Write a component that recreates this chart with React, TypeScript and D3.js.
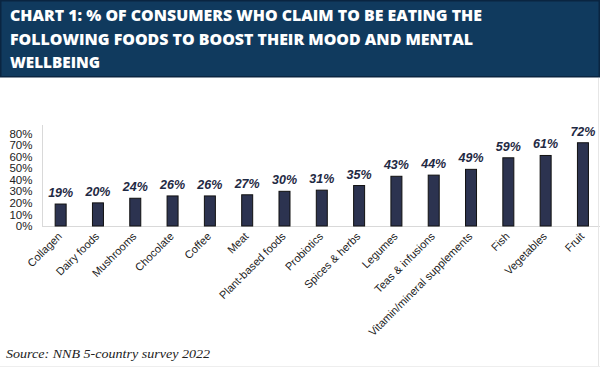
import React from "react";
import * as d3 from "d3";

const categories = [
  "Collagen", "Dairy foods", "Mushrooms", "Chocolate", "Coffee", "Meat",
  "Plant-based foods", "Probiotics", "Spices & herbs", "Legumes",
  "Teas & infusions", "Vitamin/mineral supplements", "Fish", "Vegetables", "Fruit",
];
const values = [19, 20, 24, 26, 26, 27, 30, 31, 35, 43, 44, 49, 59, 61, 72];
const yTicks = [0, 10, 20, 30, 40, 50, 60, 70, 80];
const titleLines = [
  "CHART 1: % OF CONSUMERS WHO CLAIM TO BE EATING THE",
  "FOLLOWING FOODS TO BOOST THEIR MOOD AND MENTAL",
  "WELLBEING",
];
const source = "Source: NNB 5-country survey 2022";

export default function App() {
  const W = 600, H = 368;
  const x = d3.scaleBand<string>().domain(categories).range([42, 601.6]).paddingInner(0.7).paddingOuter(0.35);
  const y = d3.scaleLinear().domain([0, 80]).range([226, 133.5]);
  const bw = 11;
  const titleWidths = [472, 463, 90];
  const titleBase = [20.7, 44.7, 68.3];

  return (
    <svg width={W} height={H} style={{ position: "absolute", left: 0, top: 0 }}
      fontFamily="'Liberation Sans', Arial, sans-serif">
      <rect x={0} y={0} width={W} height={H} fill="#fff" />
      <rect x={0.75} y={0.75} width={W - 1.5} height={76} fill="#103a5e" stroke="#0a2541" strokeWidth={1.5} />
      {titleLines.map((t, i) => (
        <text key={i} x={10} y={titleBase[i]} fill="#fff" fontFamily="'Open Sans', sans-serif"
          fontWeight={800} fontSize={16} textLength={titleWidths[i]} lengthAdjust="spacingAndGlyphs">{t}</text>
      ))}
      {/* axes */}
      <line x1={42.5} x2={42.5} y1={125} y2={226.5} stroke="#d9d9d9" strokeWidth={1} />
      <line x1={42} x2={600} y1={226.5} y2={226.5} stroke="#d9d9d9" strokeWidth={1} />
      {yTicks.map((t) => (
        <text key={t} x={32.5} y={y(t)} dy="0.36em" textAnchor="end" fontSize={11.5} fill="#222">{t}%</text>
      ))}
      {categories.map((c, i) => {
        const cx = (x(c) as number) + x.bandwidth() / 2;
        return (
          <g key={c}>
            <rect x={cx - bw / 2} y={y(values[i])} width={bw} height={226 - y(values[i])}
              fill="#2c3350" stroke="#111" strokeWidth={1} />
            <text x={cx} y={y(values[i]) - 7} textAnchor="middle" fontSize={12.5} fontWeight={700}
              fontStyle="italic" fill="#1f2a44">{values[i]}%</text>
            <text transform={`translate(${cx + 2},${237}) rotate(-45)`} textAnchor="end" fontSize={11}
              fill="#222">{c}</text>
          </g>
        );
      })}
      <text x={6} y={358} fontFamily="'Liberation Serif', 'Times New Roman', serif" fontStyle="italic"
        fontSize={13.5} fill="#222" textLength={204} lengthAdjust="spacingAndGlyphs">{source}</text>
      <line x1={598.5} x2={598.5} y1={78} y2={367} stroke="#e6e6e6" />
      <line x1={0} x2={600} y1={366.5} y2={366.5} stroke="#eeeeee" />
    </svg>
  );
}
